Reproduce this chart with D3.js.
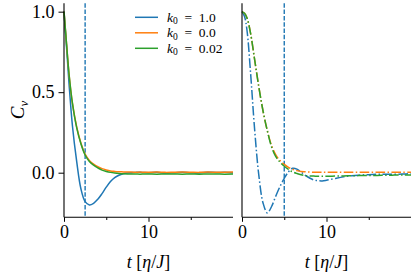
<!DOCTYPE html>
<html lang="en">
<head>
<meta charset="UTF-8">
<title>Cv</title>
<style>
  body { margin: 0; background: #fff; }
  svg text { font-family: 'Liberation Serif', 'DejaVu Serif', serif; }
</style>
</head>
<body>
<svg id="chart"></svg>
<script src="https://cdn.jsdelivr.net/npm/d3@7/dist/d3.min.js"></script>
<script>
// data
var times = [0, 0.3, 0.6, 1.0, 1.5, 2.0, 2.5, 3.0, 3.5, 4.0, 4.5, 5.0, 5.5, 6.0, 6.5, 7.0, 7.5, 8, 8.5, 9, 9.5, 10, 11, 12, 13, 14, 15, 16, 17, 18, 19, 20];

// left panel (solid)
var leftK1  = [1.0, 0.78, 0.55, 0.29, 0.07, -0.10, -0.18, -0.20, -0.19, -0.165, -0.13, -0.09, -0.055, -0.03, -0.016, -0.007, -0.002, 0.0, 0.002, 0.003, 0.001, 0.0, 0.002, -0.002, 0.0, 0.003, 0.0, -0.002, 0.003, 0.001, 0.002, 0.0];
var leftK0  = [1.0, 0.80, 0.61, 0.43, 0.285, 0.185, 0.115, 0.076, 0.053, 0.037, 0.025, 0.017, 0.011, 0.008, 0.006, 0.005, 0.004, 0.004, 0.003, 0.004, 0.003, 0.003, 0.004, 0.002, 0.003, 0.004, 0.003, 0.002, 0.004, 0.003, 0.003, 0.004];
var leftK02 = [1.0, 0.80, 0.61, 0.43, 0.28, 0.18, 0.11, 0.07, 0.047, 0.03, 0.016, 0.008, 0.002, -0.002, -0.005, -0.007, -0.008, -0.008, -0.008, -0.009, -0.008, -0.008, -0.009, -0.008, -0.008, -0.009, -0.008, -0.009, -0.008, -0.008, -0.009, -0.008];

// right panel (dash-dot)
var rightK1  = [1.0, 0.97, 0.88, 0.63, 0.265, -0.02, -0.19, -0.25, -0.21, -0.145, -0.085, -0.035, 0.005, 0.027, 0.022, 0.003, -0.017, -0.033, -0.045, -0.05, -0.051, -0.047, -0.036, -0.026, -0.019, -0.015, -0.012, -0.010, -0.009, -0.010, -0.008, -0.007];
var rightK0  = [1.0, 0.99, 0.96, 0.87, 0.70, 0.53, 0.38, 0.26, 0.168, 0.11, 0.075, 0.052, 0.033, 0.021, 0.013, 0.008, 0.006, 0.004, 0.003, 0.003, 0.003, 0.003, 0.003, 0.002, 0.003, 0.003, 0.002, 0.003, 0.003, 0.002, 0.003, 0.003];
var rightK02 = [1.0, 0.99, 0.96, 0.87, 0.70, 0.53, 0.38, 0.26, 0.16, 0.10, 0.065, 0.04, 0.02, 0.005, -0.005, -0.013, -0.018, -0.02, -0.021, -0.022, -0.022, -0.022, -0.021, -0.02, -0.019, -0.018, -0.018, -0.017, -0.016, -0.015, -0.015, -0.014];

var labels = ["1.0", "0.0", "0.02"];
var colors = ["#1f77b4", "#ff7f0e", "#2ca02c"];
var vlineLeft = 2.5, vlineRight = 5;
var yTicks = [0, 0.5, 1.0];
var xTicks = [0, 10];
var xMinor = [5, 15];

var FONT = "font-family:'Liberation Serif','DejaVu Serif',serif;";
var width = 415, height = 276;
var svg = d3.select("#chart").attr("width", width).attr("height", height);

var y = d3.scaleLinear().domain([-0.277, 1.052]).range([217.3, 3.3]);

var panels = [
  { x0: 64,  series: [leftK1, leftK0, leftK02],    dash: null,              vline: vlineLeft,  yLabels: true },
  { x0: 242, series: [rightK1, rightK0, rightK02], dash: "9.6,2.4,1.5,2.4", vline: vlineRight, yLabels: false }
];

panels.forEach(function(p) {
  var x = d3.scaleLinear().domain([0, 20]).range([p.x0, p.x0 + 169]);
  var g = svg.append("g");

  // axvline
  g.append("line")
    .attr("x1", x(p.vline)).attr("x2", x(p.vline))
    .attr("y1", y.range()[1]).attr("y2", y.range()[0])
    .attr("stroke", colors[0]).attr("stroke-width", 1.4)
    .attr("stroke-dasharray", "4.5,1.8");

  var line = d3.line()
    .x(function(d, i) { return x(times[i]); })
    .y(function(d) { return y(d); })
    .curve(d3.curveCatmullRom.alpha(0.5));

  p.series.forEach(function(s, k) {
    g.append("path")
      .attr("d", line(s))
      .attr("fill", "none")
      .attr("stroke", colors[k])
      .attr("stroke-width", 1.5)
      .attr("stroke-dasharray", p.dash);
  });

  // x axis
  var xAxis = d3.axisBottom(x).tickValues(xTicks).tickFormat(d3.format("d")).tickSize(4.5).tickPadding(3);
  var ax = g.append("g").attr("transform", "translate(0," + y.range()[0] + ")").call(xAxis);
  ax.attr("font-family", null).attr("font-size", null);
  ax.select(".domain").attr("d", "M" + x(0) + ",0H" + x(20)).attr("stroke-width", 1.1);
  ax.selectAll("text").attr("style", FONT + "font-size:18px");
  var mx = d3.axisBottom(x).tickValues(xMinor).tickFormat("").tickSize(2.7);
  var mg = g.append("g").attr("transform", "translate(0," + y.range()[0] + ")").call(mx);
  mg.select(".domain").remove();

  // y axis
  var yAxis = d3.axisLeft(y).tickValues(p.yLabels ? yTicks : []).tickFormat(d3.format(".1f")).tickSize(5.5).tickPadding(4);
  var ay = g.append("g").attr("transform", "translate(" + x(0) + ",0)").call(yAxis);
  ay.attr("font-family", null).attr("font-size", null);
  ay.select(".domain").attr("d", "M0," + y.range()[1] + "V" + y.range()[0]).attr("stroke-width", 1.1);
  ay.selectAll("text").attr("style", FONT + "font-size:18px");

  // x label
  var xl = g.append("text")
    .attr("x", x(10)).attr("y", 268)
    .attr("text-anchor", "middle")
    .attr("style", FONT + "font-size:18px");
  xl.append("tspan").attr("style", "font-style:italic").text("t");
  xl.append("tspan").text(" [");
  xl.append("tspan").attr("style", "font-style:italic").text("η");
  xl.append("tspan").text("/");
  xl.append("tspan").attr("style", "font-style:italic").text("J");
  xl.append("tspan").text("]");
});

// y label
var yl = svg.append("text")
  .attr("transform", "translate(24,110) rotate(-90)")
  .attr("text-anchor", "middle")
  .attr("style", FONT + "font-size:19px");
yl.append("tspan").attr("style", "font-style:italic").text("C");
yl.append("tspan").attr("style", "font-style:italic;font-size:13px").attr("dy", 4).text("v");

// legend
var leg = svg.append("g");
labels.forEach(function(l, i) {
  var ly = 17.3 + i * 15.5;
  leg.append("line")
    .attr("x1", 135).attr("x2", 158).attr("y1", ly).attr("y2", ly)
    .attr("stroke", colors[i]).attr("stroke-width", 1.5);
  var t = leg.append("text").attr("x", 167).attr("y", ly + 4.5)
    .attr("style", FONT + "font-size:13.5px");
  t.append("tspan").attr("style", "font-style:italic").text("k");
  t.append("tspan").attr("style", "font-size:9.5px").attr("dy", 2.5).text("0");
  t.append("tspan").attr("dy", -2.5).text("\u2002=\u2002" + l);
});
</script>
</body>
</html>
